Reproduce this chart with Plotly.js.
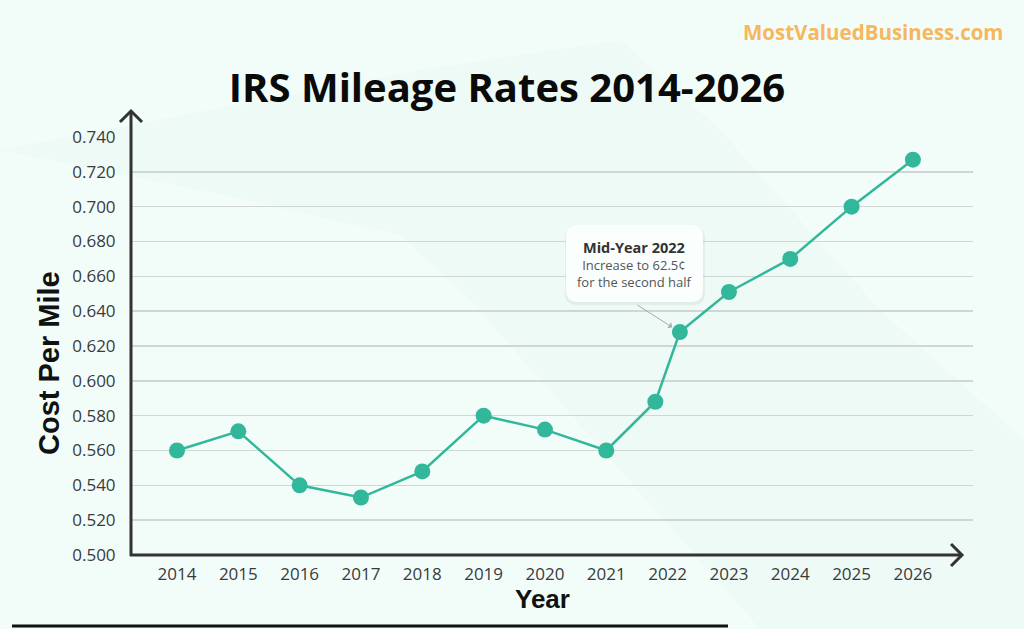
<!DOCTYPE html>
<html>
<head>
<meta charset="utf-8">
<script src="https://cdn.plot.ly/plotly-3.0.1.min.js"></script>
<style>
  html, body { margin: 0; padding: 0; background: #f2fdfa; }
  #chart { width: 1024px; height: 629px; }
</style>
</head>
<body>
<div id="chart"></div>
<script>
// data
const tickYears = [2014, 2015, 2016, 2017, 2018, 2019, 2020, 2021, 2022, 2023, 2024, 2025, 2026];
const tickLabels = ['2014', '2015', '2016', '2017', '2018', '2019', '2020', '2021', '2022', '2023', '2024', '2025', '2026'];
// 2022 has two rates: first half and second half
const pointYears = [2014, 2015, 2016, 2017, 2018, 2019, 2020, 2021, 2021.8, 2022.2, 2023, 2024, 2025, 2026];
const rates = [0.560, 0.571, 0.540, 0.533, 0.548, 0.580, 0.572, 0.560, 0.588, 0.628, 0.651, 0.670, 0.700, 0.727];
const noteIndex = 9;

// plot area in pixels, used to place the decorations
const L = 131, R = 973, T = 137, B = 555;
function px(x) { return (x - L) / (R - L); }
function py(y) { return (B - y) / (B - T); }
function path(pts) {
    return 'M' + pts.map(p => px(p[0]).toFixed(4) + ',' + py(p[1]).toFixed(4)).join('L');
}
function roundBox(x0, y0, x1, y1, r) {
    const P = (x, y) => px(x).toFixed(4) + ',' + py(y).toFixed(4);
    return 'M' + P(x0 + r, y0) + 'L' + P(x1 - r, y0) + 'Q' + P(x1, y0) + ' ' + P(x1, y0 + r) +
        'L' + P(x1, y1 - r) + 'Q' + P(x1, y1) + ' ' + P(x1 - r, y1) +
        'L' + P(x0 + r, y1) + 'Q' + P(x0, y1) + ' ' + P(x0, y1 - r) +
        'L' + P(x0, y0 + r) + 'Q' + P(x0, y0) + ' ' + P(x0 + r, y0) + 'Z';
}

const teal = '#33b79b';
const axisColor = '#333333';

const trace = {
    x: pointYears,
    y: rates,
    type: 'scatter',
    mode: 'lines+markers',
    line: { color: teal, width: 2.5 },
    marker: { color: teal, size: 16 },
    hoverinfo: 'x+y',
    cliponaxis: false
};

const shapes = [
    // faint diagonal band in the background
    {
        type: 'path', xref: 'paper', yref: 'paper', layer: 'below',
        path: path([[0, 150], [200, 190], [400, 235], [470, 300], [620, 470], [760, 629], [1024, 629],
                    [1024, 440], [880, 310], [720, 130], [620, 40], [420, 70], [0, 150]]) + 'Z',
        fillcolor: '#eefaf6', line: { width: 0 }
    },
    // y axis with open arrow
    { type: 'line', xref: 'paper', yref: 'paper', x0: px(131), y0: py(556), x1: px(131), y1: py(111),
      line: { color: axisColor, width: 3 } },
    { type: 'path', xref: 'paper', yref: 'paper', path: path([[120, 122], [131, 111], [142, 122]]),
      line: { color: axisColor, width: 3 } },
    // x axis with open arrow
    { type: 'line', xref: 'paper', yref: 'paper', x0: px(130), y0: py(555), x1: px(962), y1: py(555),
      line: { color: axisColor, width: 3 } },
    { type: 'path', xref: 'paper', yref: 'paper', path: path([[951, 544], [962, 555], [951, 566]]),
      line: { color: axisColor, width: 3 } },
    // callout box shadow and box
    { type: 'path', xref: 'paper', yref: 'paper', path: roundBox(565, 227, 705, 305, 12),
      fillcolor: 'rgba(0,0,0,0.05)', line: { width: 0 } },
    { type: 'path', xref: 'paper', yref: 'paper', path: roundBox(566, 225, 703, 302, 12),
      fillcolor: '#fafefd', line: { width: 0 } },
    // black rule at the bottom
    { type: 'line', xref: 'paper', yref: 'paper', x0: px(12), y0: py(626), x1: px(728), y1: py(626),
      line: { color: '#111111', width: 3 } }
];

const annotations = [
    {
        xref: 'paper', yref: 'paper', x: px(873), y: py(32), xanchor: 'center', yanchor: 'middle',
        text: 'MostValuedBusiness.com', showarrow: false,
        font: { family: 'Open Sans', size: 20.5, color: '#f7b75c', weight: 700 }
    },
    {
        xref: 'paper', yref: 'paper', x: px(49), y: py(363), xanchor: 'center', yanchor: 'middle',
        text: 'Cost Per Mile', textangle: -90, showarrow: false,
        font: { family: 'Liberation Sans', size: 29, color: '#111111', weight: 700 }
    },
    {
        xref: 'paper', yref: 'paper', x: px(542), y: py(599), xanchor: 'center', yanchor: 'middle',
        text: 'Year', showarrow: false,
        font: { family: 'Liberation Sans', size: 26, color: '#111111', weight: 700 }
    },
    {
        xref: 'paper', yref: 'paper', x: px(634), y: py(264), xanchor: 'center', yanchor: 'middle',
        text: '<b><span style="font-size:14.5px;color:#333">Mid-Year 2022</span></b><br>Increase to 62.5¢<br>for the second half',
        showarrow: false, align: 'center',
        font: { family: 'Open Sans', size: 13, color: '#555555' }
    },
    {
        x: pointYears[noteIndex], y: rates[noteIndex], xref: 'x', yref: 'y',
        text: '', showarrow: true, ax: -44, ay: -28, standoff: 9,
        arrowhead: 1, arrowsize: 1.2, arrowwidth: 1, arrowcolor: '#aaaaaa'
    }
];

const layout = {
    width: 1024,
    height: 629,
    margin: { l: L, r: 1024 - R, t: T, b: 629 - B },
    paper_bgcolor: '#f2fdfa',
    plot_bgcolor: 'rgba(0,0,0,0)',
    showlegend: false,
    title: {
        text: 'IRS Mileage Rates 2014-2026',
        x: 507 / 1024, xanchor: 'center',
        y: 1 - 88 / 629, yanchor: 'middle', yref: 'container',
        font: { family: 'Open Sans', size: 40, color: '#0a0a0a', weight: 700 }
    },
    xaxis: {
        range: [2013.25, 2026.98],
        tickvals: tickYears,
        ticktext: tickLabels,
        showgrid: false,
        zeroline: false,
        showline: false,
        ticks: 'outside', ticklen: 4, tickcolor: 'rgba(0,0,0,0)',
        tickfont: { family: 'Open Sans', size: 17, color: '#3a3a3a' }
    },
    yaxis: {
        range: [0.5, 0.74],
        dtick: 0.02,
        tick0: 0.5,
        tickformat: '.3f',
        showgrid: true,
        gridcolor: '#cfd6d4',
        gridwidth: 1.5,
        zeroline: false,
        showline: false,
        ticks: 'outside', ticklen: 11, tickcolor: 'rgba(0,0,0,0)',
        tickfont: { family: 'Open Sans', size: 17, color: '#3a3a3a' }
    },
    shapes: shapes,
    annotations: annotations
};

Plotly.newPlot('chart', [trace], layout, { displayModeBar: false, staticPlot: true });
</script>
</body>
</html>
